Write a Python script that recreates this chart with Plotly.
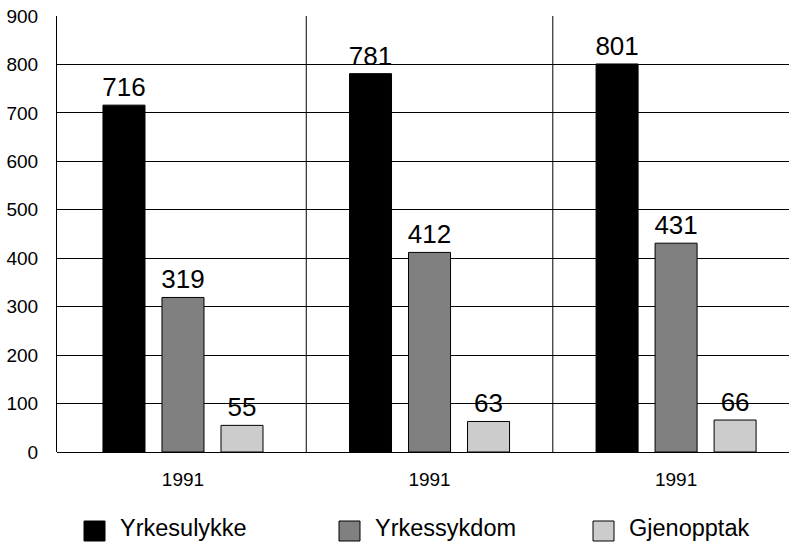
import plotly.graph_objects as go

# Data
groups = ["1991", "1991", "1991"]
series_names = ["Yrkesulykke", "Yrkessykdom", "Gjenopptak"]
yrkesulykke = [716, 781, 801]
yrkessykdom = [319, 412, 431]
gjenopptak = [55, 63, 66]
y_ticks = [0, 100, 200, 300, 400, 500, 600, 700, 800, 900]

colors = ["#000000", "#808080", "#cccccc"]
FONT = "Arial, Liberation Sans, Helvetica, sans-serif"

x_pos = list(range(len(groups)))
fig = go.Figure()
for name, vals, col in zip(series_names, [yrkesulykke, yrkessykdom, gjenopptak], colors):
    fig.add_trace(go.Bar(
        x=x_pos, y=vals, name=name,
        marker=dict(color=col, line=dict(color="#000000", width=1)),
        text=[str(v) for v in vals], textposition="outside",
        textfont=dict(family=FONT, size=26, color="#000000"),
        constraintext="none", cliponaxis=False,
        showlegend=False,
    ))

# Vertical separators between the year groups
shapes = []
for b in [i + 0.5 for i in x_pos[:-1]]:
    shapes.append(dict(type="line", xref="x", yref="y", x0=b, x1=b, y0=0, y1=900,
                       line=dict(color="#000000", width=1), layer="below"))

# Legend drawn under the plot: square swatch + label
plot_h = 436.0
zero_px = 452.0
def py(p):
    return (zero_px - p) / plot_h

plot_w = 732.0
def px(p):
    return (p - 57.0) / plot_w

legend_items = [(84, 118), (339, 373), (593, 627)]
annotations = []
for (sx, tx), name, col in zip(legend_items, series_names, colors):
    shapes.append(dict(type="rect", xref="paper", yref="paper",
                       x0=px(sx), x1=px(sx + 21), y0=py(541), y1=py(521),
                       fillcolor=col, line=dict(color="#000000", width=1)))
    annotations.append(dict(xref="paper", yref="paper", x=px(tx), y=py(528),
                            xanchor="left", yanchor="middle", showarrow=False,
                            text=name, font=dict(family=FONT, size=23.5, color="#000000")))

fig.update_layout(
    width=789, height=544,
    margin=dict(l=57, r=0, t=16, b=92),
    paper_bgcolor="#ffffff", plot_bgcolor="#ffffff",
    barmode="group", bargap=0.282, bargroupgap=0.288,
    font=dict(family=FONT, color="#000000"),
    shapes=shapes, annotations=annotations,
    xaxis=dict(range=[-0.511, 2.458], tickmode="array", tickvals=x_pos, ticktext=groups,
               showgrid=False, zeroline=False, showline=False, ticks="",
               tickfont=dict(family=FONT, size=19, color="#000000"),
               ticklabelstandoff=14, fixedrange=True),
    yaxis=dict(range=[0, 900], tickmode="array", tickvals=y_ticks,
               showgrid=True, gridcolor="#000000", gridwidth=1,
               zeroline=True, zerolinecolor="#000000", zerolinewidth=1,
               showline=True, linecolor="#000000", linewidth=1, ticks="",
               tickfont=dict(family=FONT, size=19, color="#000000"),
               ticklabelstandoff=14, fixedrange=True),
)

fig.write_html("out.html", config={"displayModeBar": False})
